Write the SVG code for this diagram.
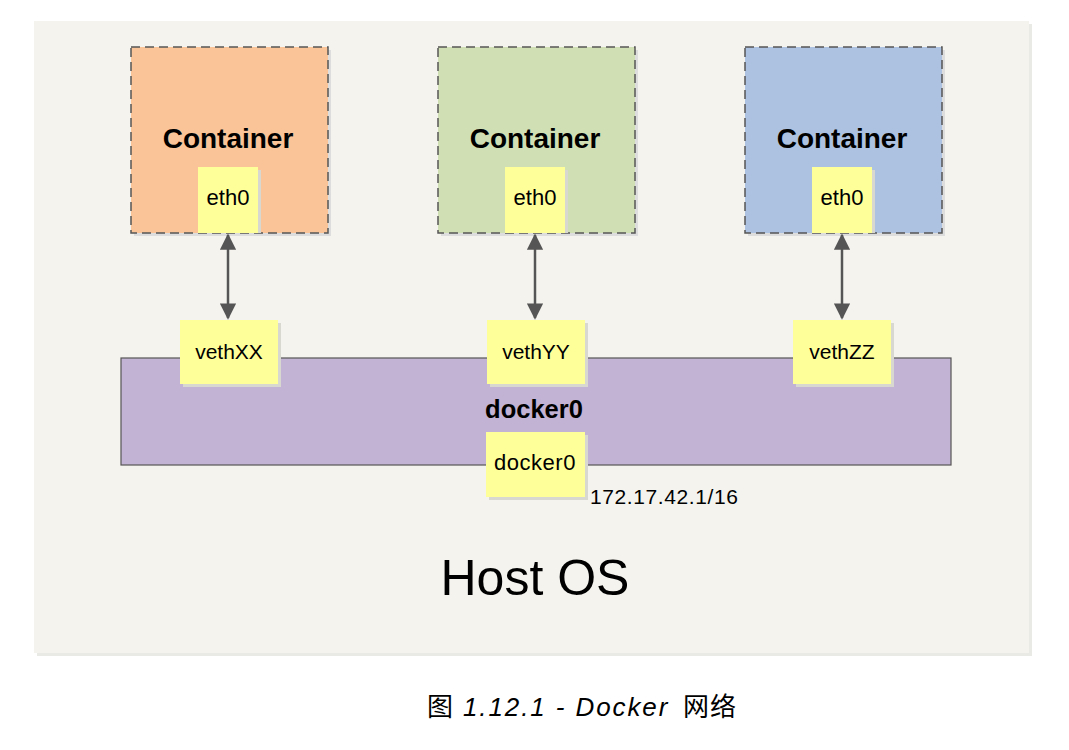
<svg xmlns="http://www.w3.org/2000/svg" width="1069" height="750" viewBox="0 0 1069 750">
<defs>
<style>
.cont{stroke:#555;stroke-width:1.5;stroke-dasharray:9,5}
.note{fill:#ffff99}
.shadow{fill:#d8d8d0}
.t{font-family:"Liberation Sans",Arial,sans-serif;fill:#000}
.b{font-weight:bold;font-size:28px}
.s{font-size:21px}
.s2{font-size:22px}
.lnk{stroke:#555;stroke-width:2.5;fill:none}
</style>
<marker id="ah" viewBox="0 0 10 10" refX="9" refY="5" markerWidth="6.5" markerHeight="6.5" orient="auto-start-reverse" markerUnits="strokeWidth">
<path d="M0,0 L10,5 L0,10 Z" fill="#555"/>
</marker>
</defs>
<rect x="0" y="0" width="1069" height="750" fill="#fff"/>
<g id="host">
<rect x="37" y="24" width="995" height="632" fill="#e9e9e6"/>
<rect x="34" y="21" width="995" height="632" fill="#f4f3ee"/>
<text class="t" x="535" y="595" font-size="50" text-anchor="middle">Host OS</text>
</g>
<g id="container1">
<rect x="134" y="50" width="197" height="186" fill="#ddd"/>
<rect class="cont" x="131" y="47" width="197" height="186" fill="#fac498"/>
<text class="t b" x="228" y="148" text-anchor="middle">Container</text>
</g>
<g id="eth0-1">
<rect class="shadow" x="201" y="170" width="60" height="63"/>
<rect class="note" x="198" y="167" width="60" height="66"/>
<text class="t s2" x="228" y="205" text-anchor="middle">eth0</text>
</g>
<g id="container2">
<rect x="441" y="50" width="197" height="186" fill="#ddd"/>
<rect class="cont" x="438" y="47" width="197" height="186" fill="#d1e0b4"/>
<text class="t b" x="535" y="148" text-anchor="middle">Container</text>
</g>
<g id="eth0-2">
<rect class="shadow" x="508" y="170" width="60" height="63"/>
<rect class="note" x="505" y="167" width="60" height="66"/>
<text class="t s2" x="535" y="205" text-anchor="middle">eth0</text>
</g>
<g id="container3">
<rect x="748" y="50" width="197" height="186" fill="#ddd"/>
<rect class="cont" x="745" y="47" width="197" height="186" fill="#adc2e0"/>
<text class="t b" x="842" y="148" text-anchor="middle">Container</text>
</g>
<g id="eth0-3">
<rect class="shadow" x="815" y="170" width="60" height="63"/>
<rect class="note" x="812" y="167" width="60" height="66"/>
<text class="t s2" x="842" y="205" text-anchor="middle">eth0</text>
</g>
<g id="docker0-bridge">
<rect x="121" y="358" width="830" height="107" fill="#c2b2d3" stroke="#555" stroke-width="1.2"/>
<text class="t" x="534" y="418" font-size="25.5" font-weight="bold" text-anchor="middle">docker0</text>
</g>
<g id="vethXX">
<rect class="shadow" x="183" y="323" width="98" height="64"/>
<rect class="note" x="180" y="320" width="98" height="64"/>
<text class="t s" x="229" y="359" text-anchor="middle">vethXX</text>
</g>
<g id="vethYY">
<rect class="shadow" x="490" y="323" width="98" height="64"/>
<rect class="note" x="487" y="320" width="98" height="64"/>
<text class="t s" x="536" y="359" text-anchor="middle">vethYY</text>
</g>
<g id="vethZZ">
<rect class="shadow" x="796" y="323" width="98" height="64"/>
<rect class="note" x="793" y="320" width="98" height="64"/>
<text class="t s" x="842" y="359" text-anchor="middle">vethZZ</text>
</g>
<g id="docker0-if">
<rect class="shadow" x="489" y="435" width="99" height="65"/>
<rect class="note" x="486" y="432" width="99" height="65"/>
<text class="t s2" x="535" y="470" text-anchor="middle" letter-spacing="0.5">docker0</text>
<text class="t" x="590" y="504" font-size="21" letter-spacing="0.6">172.17.42.1/16</text>
</g>
<g id="connectors">
<line class="lnk" x1="228" y1="235" x2="228" y2="318" marker-start="url(#ah)" marker-end="url(#ah)"/>
<line class="lnk" x1="535" y1="235" x2="535" y2="318" marker-start="url(#ah)" marker-end="url(#ah)"/>
<line class="lnk" x1="842" y1="235" x2="842" y2="318" marker-start="url(#ah)" marker-end="url(#ah)"/>
</g>
<text y="716" font-size="26" font-family="'Liberation Sans','Noto Sans CJK SC',sans-serif"><tspan x="427">图</tspan><tspan x="463" letter-spacing="1.9" font-style="italic">1.12.1 - Docker</tspan><tspan x="683" letter-spacing="1">网络</tspan></text>
</svg>
